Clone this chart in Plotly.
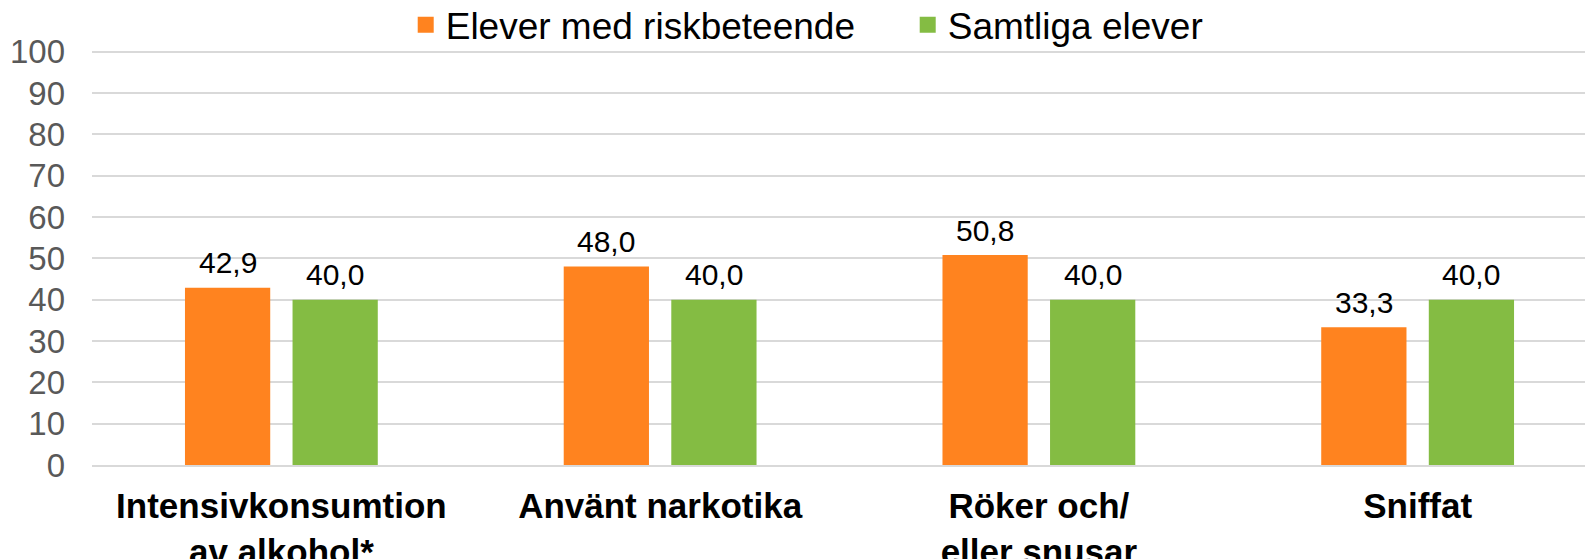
import plotly.graph_objects as go

categories = ["Intensivkonsumtion<br>av alkohol*", "Använt narkotika", "Röker och/<br>eller snusar", "Sniffat"]
risk_values = [42.9, 48.0, 50.8, 33.3]
all_values = [40.0, 40.0, 40.0, 40.0]
series_names = ["Elever med riskbeteende", "Samtliga elever"]
series_colors = ["#FF831F", "#84BC43"]
y_ticks = [0, 10, 20, 30, 40, 50, 60, 70, 80, 90, 100]

def fmt(v):
    return f"{v:.1f}".replace(".", ",")

W, H = 1585, 551
ML, MR, MT, MB = 84, 0, 42, 94
XRANGE = [-0.5, 3.463]
BARGAP = 0.432
BARGROUPGAP = 0.2075

fig = go.Figure()
for name, vals, col in zip(series_names, (risk_values, all_values), series_colors):
    fig.add_trace(go.Bar(
        x=categories, y=vals, name=name, showlegend=False,
        marker=dict(color=col, line=dict(width=0)),
    ))
# legend entries with larger square swatches
for name, col in zip(series_names, series_colors):
    fig.add_trace(go.Scatter(
        x=[None], y=[None], name=name, mode="markers",
        marker=dict(symbol="square", size=16, color=col),
    ))

# data labels as annotations, offset to each bar's centre
px_per_cat = (W - ML - MR) / (XRANGE[1] - XRANGE[0])
slot_px = (1 - BARGAP) / 2 * px_per_cat
for vals, sign in ((risk_values, -1), (all_values, 1)):
    for c, v in zip(categories, vals):
        fig.add_annotation(
            x=c, y=v, text=fmt(v), showarrow=False,
            xshift=sign * slot_px / 2, yshift=25, yanchor="middle",
            font=dict(size=30, color="#000000", family="Liberation Sans, Arial"),
        )

fig.update_layout(
    width=W, height=H,
    margin=dict(l=ML, r=MR, t=MT, b=MB, autoexpand=False),
    paper_bgcolor="white", plot_bgcolor="white",
    barmode="group", bargap=BARGAP, bargroupgap=BARGROUPGAP,
    font=dict(family="Liberation Sans, Arial", color="#000000"),
    showlegend=True,
    legend=dict(orientation="h", x=0.209, xanchor="left", y=1.06, yanchor="middle",
                bgcolor="rgba(0,0,0,0)",
                font=dict(size=37, color="#000000"), itemwidth=30,
                entrywidth=457, entrywidthmode="pixels", traceorder="normal"),
)
fig.update_xaxes(
    type="category", range=XRANGE,
    tickfont=dict(size=35, color="#000000", family="Liberation Sans, Arial", weight="bold"),
    showgrid=False, showline=True, linecolor="#D9D9D9", linewidth=2,
    ticks="", ticklabelstandoff=9,
)
fig.update_yaxes(
    range=[0, 100.4], tickvals=y_ticks,
    tickfont=dict(size=33, color="#595959"),
    showgrid=True, gridcolor="#D9D9D9", gridwidth=2,
    zeroline=False, showline=False, ticks="", ticklabelstandoff=26,
)

fig.write_html("out.html")
